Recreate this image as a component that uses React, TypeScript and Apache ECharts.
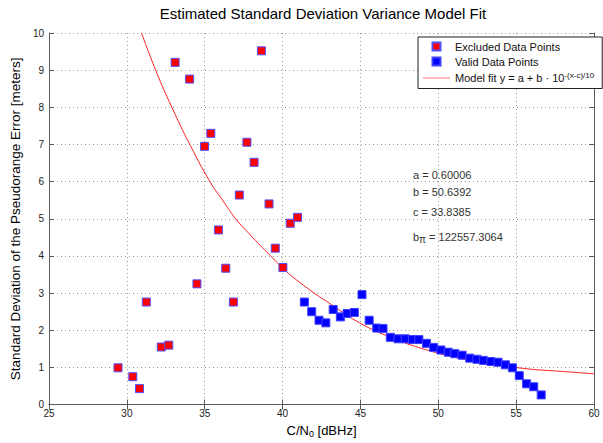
import React, { useEffect, useRef } from "react";
import * as echarts from "echarts";

const excludedPoints: [number, number][] = [
  [29.43, 0.99], [30.38, 0.75], [30.81, 0.43], [31.25, 2.76], [32.21, 1.55],
  [32.69, 1.6], [33.1, 9.21], [34.03, 8.76], [34.5, 3.25], [34.99, 6.95],
  [35.39, 7.3], [35.88, 4.7], [36.35, 3.67], [36.84, 2.76], [37.22, 5.64],
  [37.71, 7.06], [38.17, 6.52], [38.64, 9.52], [39.13, 5.4], [39.53, 4.21],
  [40.02, 3.69], [40.49, 4.88], [40.96, 5.04],
];

const validPoints: [number, number][] = [
  [41.4, 2.76], [41.87, 2.5], [42.34, 2.27], [42.78, 2.2], [43.25, 2.56],
  [43.71, 2.36], [44.14, 2.45], [44.61, 2.48], [45.1, 2.96], [45.56, 2.27],
  [46.05, 2.06], [46.45, 2.05], [46.92, 1.81], [47.41, 1.77], [47.88, 1.77],
  [48.34, 1.75], [48.75, 1.75], [49.24, 1.65], [49.7, 1.54], [50.17, 1.47],
  [50.64, 1.41], [51.06, 1.37], [51.53, 1.33], [52.02, 1.25], [52.48, 1.22],
  [52.89, 1.19], [53.38, 1.16], [53.84, 1.14], [54.31, 1.07], [54.76, 0.99],
  [55.2, 0.78], [55.67, 0.56], [56.13, 0.48], [56.61, 0.26],
];

const fitCurve: [number, number][] = [
  [30.94, 10.0], [31.85, 9.0], [32.89, 8.0], [34.08, 6.97], [35.35, 5.99],
  [36.13, 5.51], [36.99, 5.0], [37.94, 4.56], [39.0, 4.1], [40.05, 3.66],
  [40.7, 3.42], [41.97, 3.02], [42.82, 2.78], [44.95, 2.2], [47.07, 1.79],
  [49.19, 1.48], [51.32, 1.25], [53.44, 1.1], [55.56, 0.97], [57.69, 0.9],
  [60.0, 0.83],
];

const fitParams: string[] = [
  "a = 0.60006",
  "b = 50.6392",
  "c = 33.8385",
];
const bPiValue = "122557.3064";

const FONT = "Liberation Sans, Arial, sans-serif";

export default function App() {
  const ref = useRef<HTMLDivElement>(null);
  useEffect(() => {
    document.body.style.margin = "0";
    if (!ref.current) return;
    const chart = echarts.init(ref.current, undefined, { renderer: "svg" });
    const gridLine = { show: true, lineStyle: { color: "#9a9a9a", type: [1, 3] as any, width: 1 } };
    const axisLineStyle = { show: true, lineStyle: { color: "#5a5a5a", width: 1 } };
    const tick = { show: true, inside: true, length: 5, lineStyle: { color: "#5a5a5a" } };
    const option: any = {
      animation: false,
      backgroundColor: "#fff",
      textStyle: { fontFamily: FONT },
      title: {
        text: "Estimated Standard Deviation Variance Model Fit",
        left: 318,
        top: 1,
        textAlign: "center",
        textStyle: { fontFamily: FONT, fontSize: 15, fontWeight: "normal", color: "#000" },
      },
      grid: { left: 43, right: 9, top: 33, bottom: 38, containLabel: false },
      legend: {
        left: 418,
        top: 37,
        orient: "vertical",
        backgroundColor: "#fff",
        borderColor: "#222",
        borderWidth: 1,
        borderRadius: 0,
        padding: [4, 8, 5, 5],
        itemGap: 4,
        itemWidth: 27,
        itemHeight: 8,
        symbolKeepAspect: true,
        textStyle: {
          fontFamily: FONT,
          fontSize: 11,
          color: "#111",
          rich: {
            n: { fontFamily: FONT, fontSize: 11, color: "#111" },
            sup: { fontFamily: FONT, fontSize: 8, color: "#111", verticalAlign: "top", padding: [0, 0, 6, 0] },
          },
        },
        data: [
          { name: "Excluded Data Points", icon: "path://M0,0h8v8h-8z" },
          { name: "Valid Data Points", icon: "path://M0,0h8v8h-8z" },
          {
            name: "Model fit",
            icon: "path://M0,0h27v1.2h-27z",
            itemStyle: { color: "#ff8a8a", borderWidth: 0 },
          },
        ],
        formatter: (name: string) =>
          name === "Model fit" ? "{n|Model fit y = a + b · 10}{sup|-(x-c)/10}" : name,
      },
      xAxis: [
        {
          type: "value",
          min: 25,
          max: 60,
          interval: 5,
          position: "bottom",
          name: "{a|C/N}{s|0}{a| [dBHz]}",
          nameLocation: "middle",
          nameGap: 17,
          nameTextStyle: {
            rich: {
              a: { fontFamily: FONT, fontSize: 13, color: "#000" },
              s: { fontFamily: FONT, fontSize: 9, color: "#000", verticalAlign: "bottom", padding: [7, 0, 0, 0] },
            },
          },
          axisLine: axisLineStyle,
          axisTick: tick,
          splitLine: gridLine,
          axisLabel: { fontFamily: FONT, fontSize: 10, color: "#222", margin: 4 },
        },
        {
          type: "value",
          min: 25,
          max: 60,
          interval: 5,
          position: "top",
          axisLine: axisLineStyle,
          axisTick: tick,
          splitLine: { show: false },
          axisLabel: { show: false },
        },
      ],
      yAxis: [
        {
          type: "value",
          min: 0,
          max: 10,
          interval: 1,
          position: "left",
          name: "Standard Deviation of the Pseudorange Error [meters]",
          nameLocation: "middle",
          nameGap: 7,
          nameTextStyle: { fontFamily: FONT, fontSize: 13.5, color: "#000" },
          axisLine: axisLineStyle,
          axisTick: tick,
          splitLine: gridLine,
          axisLabel: { fontFamily: FONT, fontSize: 10, color: "#222", margin: 5 },
        },
        {
          type: "value",
          min: 0,
          max: 10,
          interval: 1,
          position: "right",
          axisLine: axisLineStyle,
          axisTick: tick,
          splitLine: { show: false },
          axisLabel: { show: false },
        },
      ],
      series: [
        {
          name: "Model fit",
          type: "line",
          data: fitCurve,
          smooth: true,
          showSymbol: false,
          symbol: "none",
          lineStyle: { color: "#ff2020", width: 1 },
          itemStyle: { color: "#ff2020" },
          z: 1,
        },
        {
          name: "Excluded Data Points",
          type: "scatter",
          data: excludedPoints,
          symbol: "rect",
          symbolSize: 8,
          itemStyle: { color: "#ff0000", borderColor: "#5050ff", borderWidth: 1, opacity: 1 },
          z: 3,
        },
        {
          name: "Valid Data Points",
          type: "scatter",
          data: validPoints,
          symbol: "rect",
          symbolSize: 8,
          itemStyle: { color: "#0000ff", borderColor: "#4040ff", borderWidth: 1, opacity: 1 },
          z: 3,
        },
      ],
      graphic: [
        ...fitParams.map((t, i) => ({
          type: "text",
          left: 413,
          top: [169, 186, 206][i],
          style: { text: t, font: `11px ${FONT}`, fill: "#333" },
        })),
        {
          type: "text",
          left: 413,
          top: 231,
          style: {
            text: "{a|b}{s|π}{a| = " + bPiValue + "}",
            rich: {
              a: { fontFamily: FONT, fontSize: 11, fill: "#333", color: "#333" } as any,
              s: { fontFamily: FONT, fontSize: 10, fill: "#333", color: "#333", padding: [6, 0, 0, 0] } as any,
            },
          },
        },
      ],
    };
    chart.setOption(option);
    return () => chart.dispose();
  }, []);
  return <div ref={ref} style={{ width: 603, height: 443 }} />;
}
